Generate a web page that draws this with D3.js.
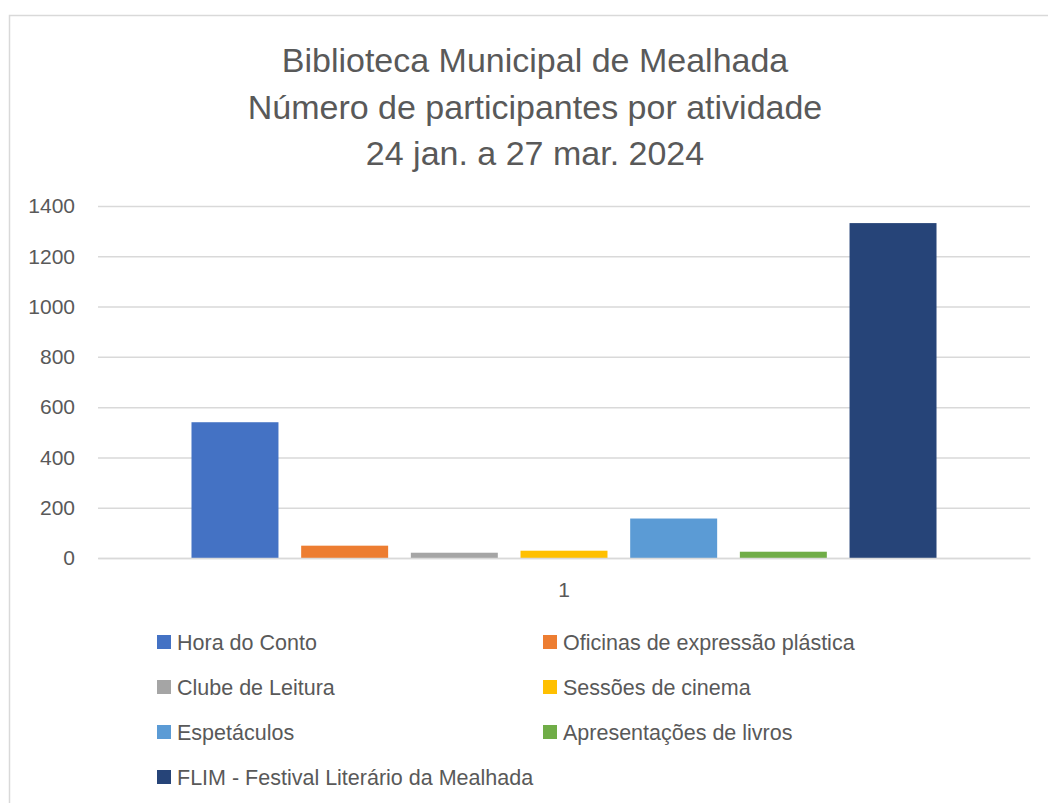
<!DOCTYPE html>
<html>
<head>
<meta charset="utf-8">
<script src="https://cdn.jsdelivr.net/npm/d3@7"></script>
<style>
  body { margin: 0; background: #fff; }
  text { font-family: "Liberation Sans", Arial, sans-serif; fill: #595959; }
</style>
</head>
<body>
<div id="chart"></div>
<script>
// Chart data
var categories = ["1"];
var seriesNames = [
  "Hora do Conto",
  "Oficinas de expressão plástica",
  "Clube de Leitura",
  "Sessões de cinema",
  "Espetáculos",
  "Apresentações de livros",
  "FLIM - Festival Literário da Mealhada",
];
var seriesValues = [540, 49, 21, 29, 157, 25, 1332];
var seriesColors = ["#4472c4", "#ed7d31", "#a5a5a5", "#ffc000", "#5b9bd5", "#70ad47", "#264478"];
var yTicks = [0, 200, 400, 600, 800, 1000, 1200, 1400];
var titleLines = [
  "Biblioteca Municipal de Mealhada",
  "Número de participantes por atividade",
  "24 jan. a 27 mar. 2024",
];

var svgWidth = 1048;
var svgHeight = 803;

// plot area
var plot = { left: 98, right: 1030, top: 206, bottom: 558 };

var svg = d3
  .select("#chart")
  .append("svg")
  .attr("width", svgWidth)
  .attr("height", svgHeight);

// chart frame
svg
  .append("rect")
  .attr("x", 9.5)
  .attr("y", 15.5)
  .attr("width", svgWidth + 10)
  .attr("height", svgHeight + 10)
  .attr("fill", "none")
  .attr("stroke", "#d9d9d9")
  .attr("stroke-width", 1.5);

// title
svg
  .append("g")
  .selectAll("text")
  .data(titleLines)
  .enter()
  .append("text")
  .attr("x", 535)
  .attr("y", (d, i) => 72 + i * 46.5)
  .attr("text-anchor", "middle")
  .style("font-size", "34px")
  .text((d) => d);

// scales
var yScale = d3.scaleLinear().domain([0, 1400]).range([plot.bottom, plot.top]);

var x0 = d3
  .scaleBand()
  .domain(categories)
  .range([plot.left, plot.right])
  .padding(0.1115);

var x1 = d3
  .scaleBand()
  .domain(seriesNames)
  .range([0, x0.bandwidth()])
  .paddingInner(0.207);

// gridlines
var leftAxis = d3
  .axisLeft(yScale)
  .tickValues(yTicks)
  .tickFormat(d3.format("d"))
  .tickSize(-(plot.right - plot.left))
  .tickPadding(23);

var yAxis = svg
  .append("g")
  .attr("transform", `translate(${plot.left}, 0)`)
  .call(leftAxis);

yAxis.select(".domain").remove();
yAxis.selectAll("line").attr("stroke", "#d9d9d9").attr("stroke-width", 1.5);
yAxis
  .selectAll("text")
  .attr("fill", "#595959")
  .style("font-size", "21px")
  .style("font-family", "Liberation Sans, Arial, sans-serif");

// bars
svg
  .append("g")
  .selectAll("rect")
  .data(seriesNames)
  .enter()
  .append("rect")
  .attr("x", (d) => x0(categories[0]) + x1(d))
  .attr("y", (d, i) => yScale(seriesValues[i]))
  .attr("width", x1.bandwidth())
  .attr("height", (d, i) => plot.bottom - yScale(seriesValues[i]))
  .attr("fill", (d, i) => seriesColors[i]);

// x axis line + category label
var bottomAxis = d3.axisBottom(x0).tickSize(0).tickPadding(24);
var xAxis = svg
  .append("g")
  .attr("transform", `translate(0, ${plot.bottom})`)
  .call(bottomAxis);
xAxis.select(".domain").attr("stroke", "#d9d9d9").attr("stroke-width", 1.5);
xAxis
  .selectAll("text")
  .attr("fill", "#595959")
  .style("font-size", "21px")
  .style("font-family", "Liberation Sans, Arial, sans-serif");

// legend
var legend = svg
  .append("g")
  .selectAll("g")
  .data(seriesNames)
  .enter()
  .append("g")
  .attr("transform", (d, i) => {
    var col = i % 2;
    var row = Math.floor(i / 2);
    return `translate(${157 + col * 386}, ${642 + row * 45})`;
  });

legend
  .append("rect")
  .attr("x", 0)
  .attr("y", -7)
  .attr("width", 14)
  .attr("height", 14)
  .attr("fill", (d, i) => seriesColors[i]);

legend
  .append("text")
  .attr("x", 20)
  .attr("y", 7.5)
  .style("font-size", "21.5px")
  .text((d) => d);
</script>
</body>
</html>
